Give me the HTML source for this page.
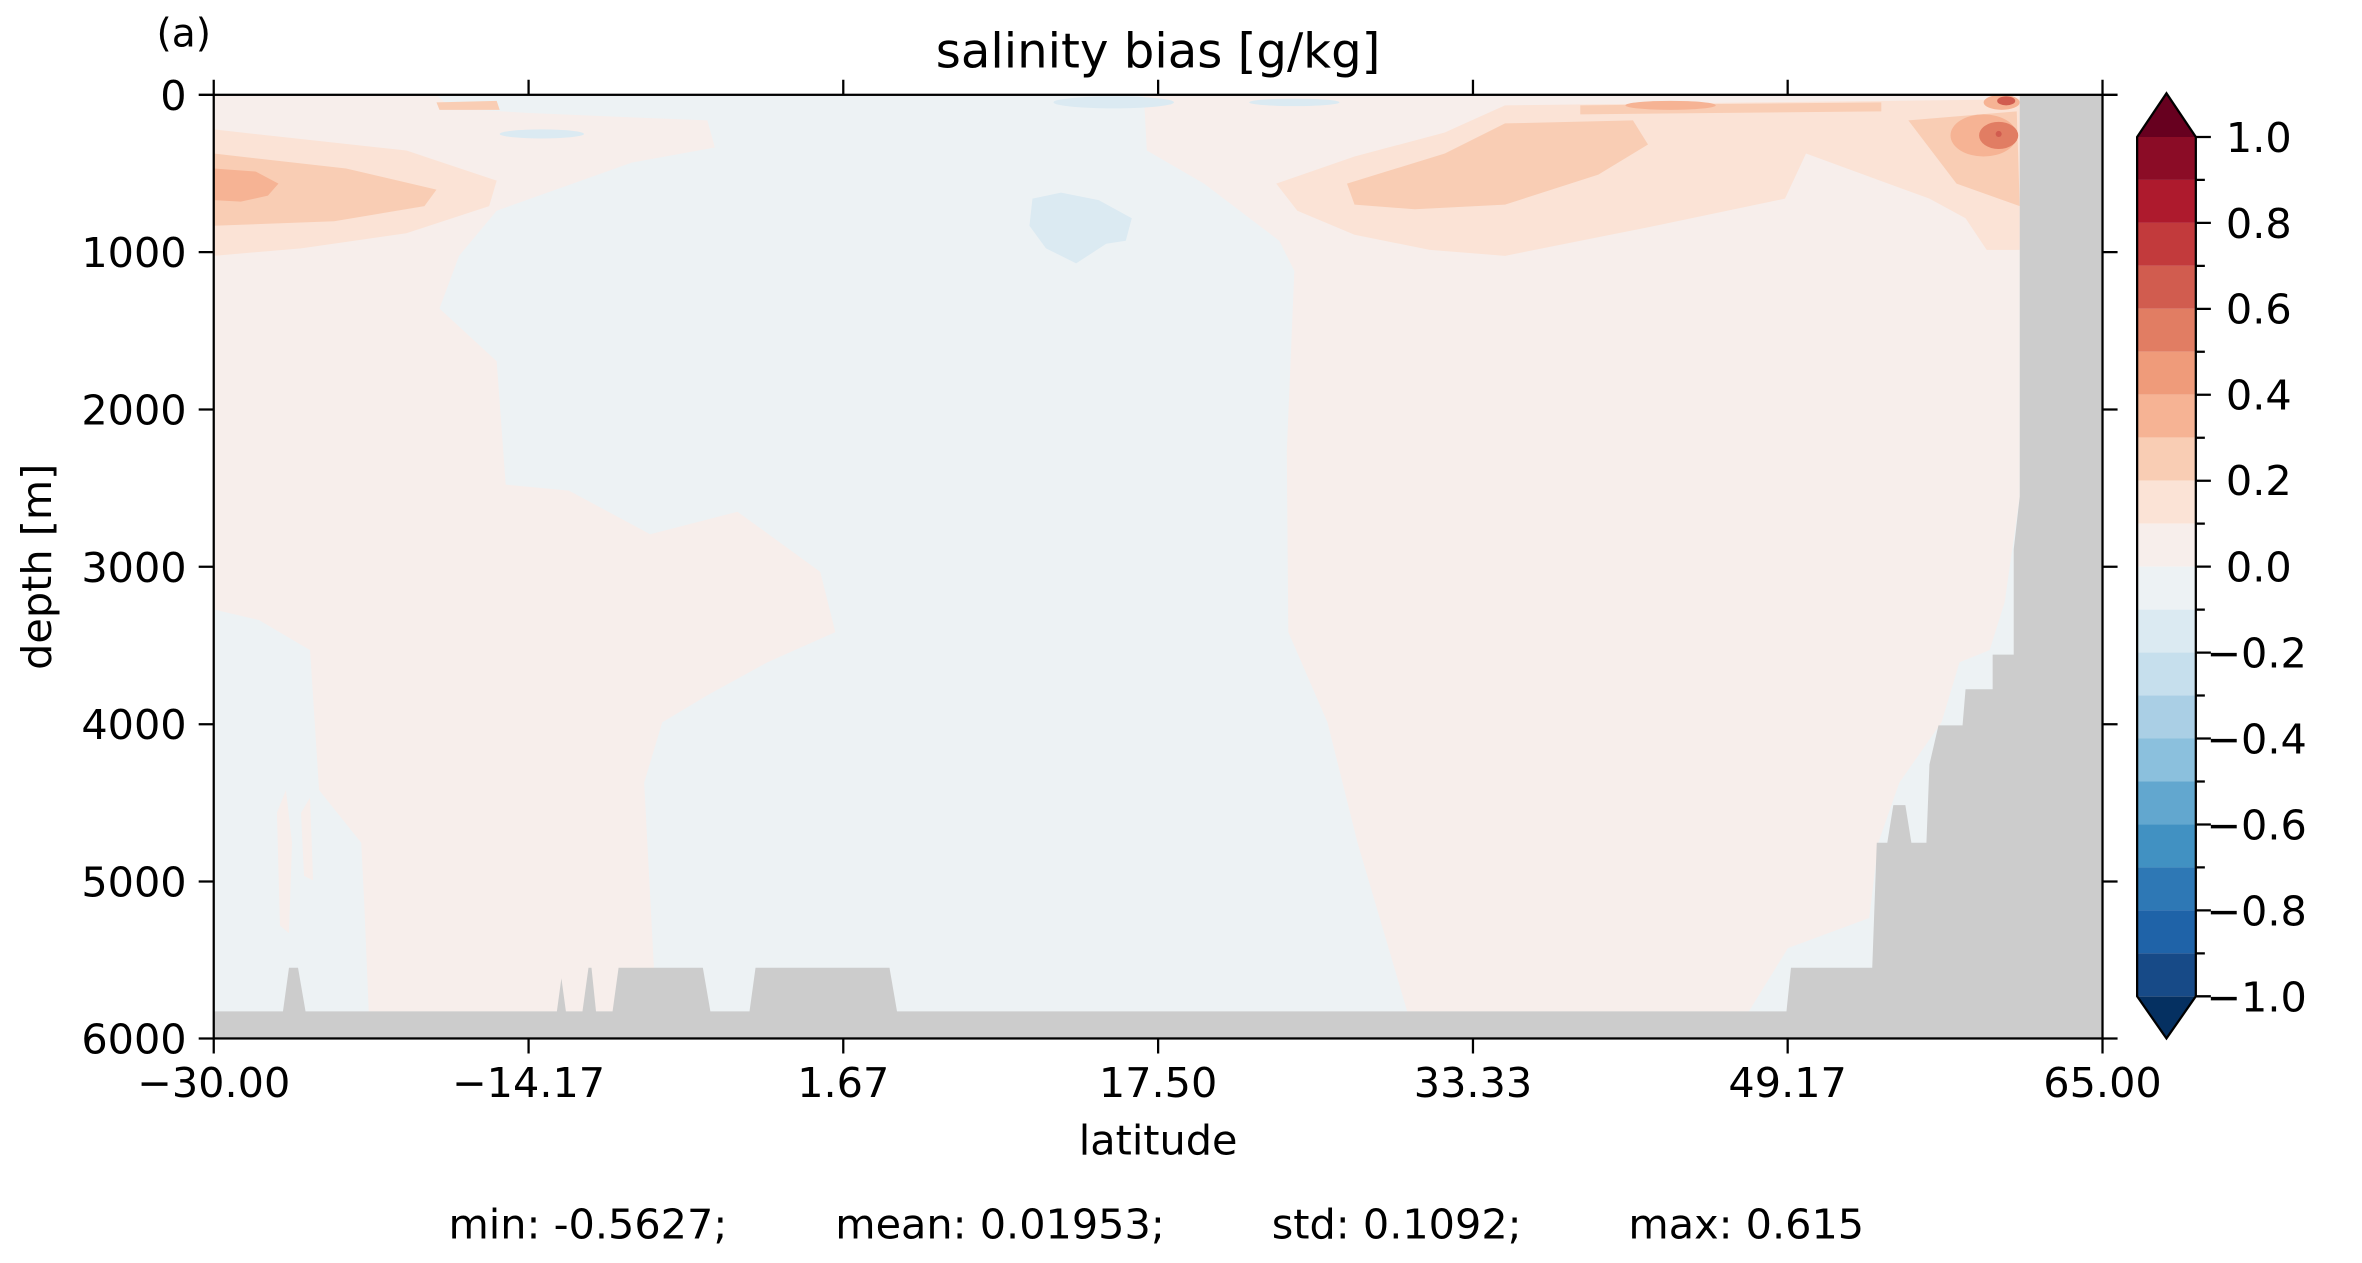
<!DOCTYPE html>
<html><head><meta charset="utf-8"><style>html,body{margin:0;padding:0;background:#fff}svg{display:block}</style></head>
<body>
<svg width="2362" height="1263" viewBox="0 0 1569.4 839.2" xmlns="http://www.w3.org/2000/svg" font-family="'DejaVu Sans','Liberation Sans',sans-serif">
<rect width="1569.4" height="839.2" fill="#fff"/>
<rect x="142" y="63" width="1255" height="627" fill="#edf2f4"/>
<path fill="#f7eeeb" d="M142,63 L290,63 L300,72 L350,75 L420,78 L470,80 L475,98 L420,108 L330,140 L305,170 L292,205 L330,240 L336,322 L378,326 L432,355 L490,340 L545,380 L555,420 L510,440 L470,462 L440,480 L428,520 L436,672 L245,672 L242,600 L240,560 L212,525 L206,432 L172,412 L142,405 Z"/>
<path fill="#f7eeeb" d="M184,540 L190,525 L194,560 L192,620 L186,615 Z M200,540 L206,530 L208,585 L202,582 Z"/>
<path fill="#f7eeeb" d="M760,63 L1342,63 L1342,330 L1332,400 L1322,432 L1302,440 L1290,480 L1262,520 L1248,560 L1242,610 L1188,630 L1162,672 L935,672 L902,560 L882,480 L856,420 L855,300 L860,180 L850,160 L800,122 L762,100 Z"/>
<path fill="#fbe3d6" d="M142,86 L270,100 L330,120 L325,137 L270,155 L200,165 L142,170 Z"/>
<path fill="#fbe3d6" d="M848,122 L900,104 L960,88 L1000,70 L1342,66 L1342,166 L1320,166 L1306,145 L1282,132 L1200,102 L1186,132 L1100,150 L1000,170 L950,166 L900,156 L862,140 Z"/>
<path fill="#f9cdb4" d="M142,102 L230,112 L290,126 L282,137 L222,147 L142,150 Z"/>
<path fill="#f9cdb4" d="M895,122 L960,102 L1000,82 L1085,80 L1095,96 L1062,116 L1000,136 L940,139 L900,136 Z"/>
<path fill="#f9cdb4" d="M1268,80 L1340,74 L1342,137 L1300,122 Z"/>
<path fill="#f9cdb4" d="M1050,70 L1250,68 L1250,74 L1050,76 Z"/>
<path fill="#f9cdb4" d="M290,68 L330,67 L332,73 L292,73 Z"/>
<path fill="#f6b394" d="M142,112 L170,114 L185,122 L178,130 L160,134 L142,133 Z"/>
<ellipse cx="1110" cy="70" rx="30" ry="3" fill="#f6b394"/>
<ellipse cx="1318" cy="90" rx="22" ry="14" fill="#f6b394"/>
<ellipse cx="1330" cy="68" rx="12" ry="5" fill="#f6b394"/>
<ellipse cx="1328" cy="90" rx="13" ry="9" fill="#e17d63"/>
<ellipse cx="1333" cy="67" rx="6" ry="3" fill="#d15c4f"/>
<circle cx="1328" cy="89" r="2" fill="#d15c4f"/>
<path fill="#dbeaf2" d="M686,132 L705,128 L730,133 L752,145 L748,160 L735,162 L715,175 L695,165 L684,150 Z"/>
<ellipse cx="740" cy="68" rx="40" ry="4" fill="#dbeaf2"/>
<ellipse cx="360" cy="89" rx="28" ry="3" fill="#dbeaf2"/>
<ellipse cx="860" cy="68" rx="30" ry="2.5" fill="#dbeaf2"/>
<path fill="#cccccc" d="M1342,63 L1397,63 L1397,690 L142,690 L142,672 L188,672 L192,643 L198,643 L203,672 L370,672 L373,650 L376,672 L387,672 L391,643 L393,643 L396,672 L407,672 L411,643 L467,643 L472,672 L498,672 L502,643 L591,643 L596,672 L1187,672 L1190,643 L1244,643 L1247,560 L1254,560 L1258,535 L1266,535 L1270,560 L1280,560 L1282,508 L1288,482 L1304,482 L1306,458 L1324,458 L1324,435 L1338,435 L1338,365 L1342,330 Z"/>
<rect x="142" y="63" width="1255" height="627" fill="none" stroke="#000" stroke-width="1.5"/>
<g stroke="#000" stroke-width="1.5">
<path d="M142,690v10M351.2,690v10M560.3,690v10M769.5,690v10M978.7,690v10M1187.8,690v10M1397,690v10"/>
<path d="M142,63v-10M351.2,63v-10M560.3,63v-10M769.5,63v-10M978.7,63v-10M1187.8,63v-10M1397,63v-10"/>
<path d="M142,63h-10M142,167.5h-10M142,272.1h-10M142,376.6h-10M142,481.2h-10M142,585.7h-10M142,690h-10"/>
<path d="M1397,63h10M1397,167.5h10M1397,272.1h10M1397,376.6h10M1397,481.2h10M1397,585.7h10M1397,690h10"/>
</g>
<g font-size="27.5" fill="#000">
<g text-anchor="middle">
<text x="142" y="729">−30.00</text><text x="351.2" y="729">−14.17</text><text x="560.3" y="729">1.67</text><text x="769.5" y="729">17.50</text><text x="978.7" y="729">33.33</text><text x="1187.8" y="729">49.17</text><text x="1397" y="729">65.00</text>
<text x="769.5" y="767">latitude</text>
<text x="769.5" y="45" font-size="32">salinity bias [g/kg]</text>
</g>
<g text-anchor="end">
<text x="124" y="73">0</text><text x="124" y="177.5">1000</text><text x="124" y="282">2000</text><text x="124" y="386.6">3000</text><text x="124" y="491">4000</text><text x="124" y="595.7">5000</text><text x="124" y="700">6000</text>
</g>
<text transform="translate(34,376.6) rotate(-90)" text-anchor="middle">depth [m]</text>
<text x="104" y="31" font-size="26">(a)</text>
<text x="298" y="823">min: -0.5627;</text>
<text x="555" y="823">mean: 0.01953;</text>
<text x="845" y="823">std: 0.1092;</text>
<text x="1082" y="823">max: 0.615</text>
</g>
<g>
<rect x="1420" y="91" width="39" height="28.55" fill="#8b0c26"/>
<rect x="1420" y="119.55" width="39" height="28.55" fill="#ae1a2d"/>
<rect x="1420" y="148.1" width="39" height="28.55" fill="#c23a3c"/>
<rect x="1420" y="176.65" width="39" height="28.55" fill="#d15c4f"/>
<rect x="1420" y="205.2" width="39" height="28.55" fill="#e17d63"/>
<rect x="1420" y="233.75" width="39" height="28.55" fill="#ef9b7a"/>
<rect x="1420" y="262.3" width="39" height="28.55" fill="#f6b394"/>
<rect x="1420" y="290.85" width="39" height="28.55" fill="#f9cdb4"/>
<rect x="1420" y="319.4" width="39" height="28.55" fill="#fbe3d6"/>
<rect x="1420" y="347.95" width="39" height="28.55" fill="#f7eeeb"/>
<rect x="1420" y="376.5" width="39" height="28.55" fill="#edf2f4"/>
<rect x="1420" y="405.05" width="39" height="28.55" fill="#dbeaf2"/>
<rect x="1420" y="433.6" width="39" height="28.55" fill="#c6dfed"/>
<rect x="1420" y="462.15" width="39" height="28.55" fill="#aacfe5"/>
<rect x="1420" y="490.7" width="39" height="28.55" fill="#8bc0dd"/>
<rect x="1420" y="519.25" width="39" height="28.55" fill="#62a7cf"/>
<rect x="1420" y="547.8" width="39" height="28.55" fill="#4191c2"/>
<rect x="1420" y="576.35" width="39" height="28.55" fill="#2e78b5"/>
<rect x="1420" y="604.9" width="39" height="28.55" fill="#1f63a8"/>
<rect x="1420" y="633.45" width="39" height="28.55" fill="#174a87"/>
<path d="M1420,91 L1439.5,62 L1459,91 Z" fill="#67001f"/>
<path d="M1420,662 L1439.5,690 L1459,662 Z" fill="#053061"/>
<path d="M1420,91 L1439.5,62 L1459,91 L1459,662 L1439.5,690 L1420,662 Z" fill="none" stroke="#000" stroke-width="1.5"/>
<g stroke="#000" stroke-width="1.5">
<path d="M1459,91h10M1459,148.1h10M1459,205.2h10M1459,262.3h10M1459,319.4h10M1459,376.5h10M1459,433.6h10M1459,490.7h10M1459,547.8h10M1459,604.9h10M1459,662h10"/>
<path d="M1459,119.55h6M1459,176.65h6M1459,233.75h6M1459,290.85h6M1459,347.95h6M1459,405.05h6M1459,462.15h6M1459,519.25h6M1459,576.35h6M1459,633.45h6"/>
</g>
<g font-size="27.5" fill="#000">
<text x="1479" y="101">1.0</text><text x="1479" y="158">0.8</text><text x="1479" y="215">0.6</text><text x="1479" y="272">0.4</text><text x="1479" y="329">0.2</text><text x="1479" y="386.5">0.0</text>
<text x="1466" y="443.6">−0.2</text><text x="1466" y="500.7">−0.4</text><text x="1466" y="557.8">−0.6</text><text x="1466" y="614.9">−0.8</text><text x="1466" y="672">−1.0</text>
</g>
</g>
</svg>
</body></html>
